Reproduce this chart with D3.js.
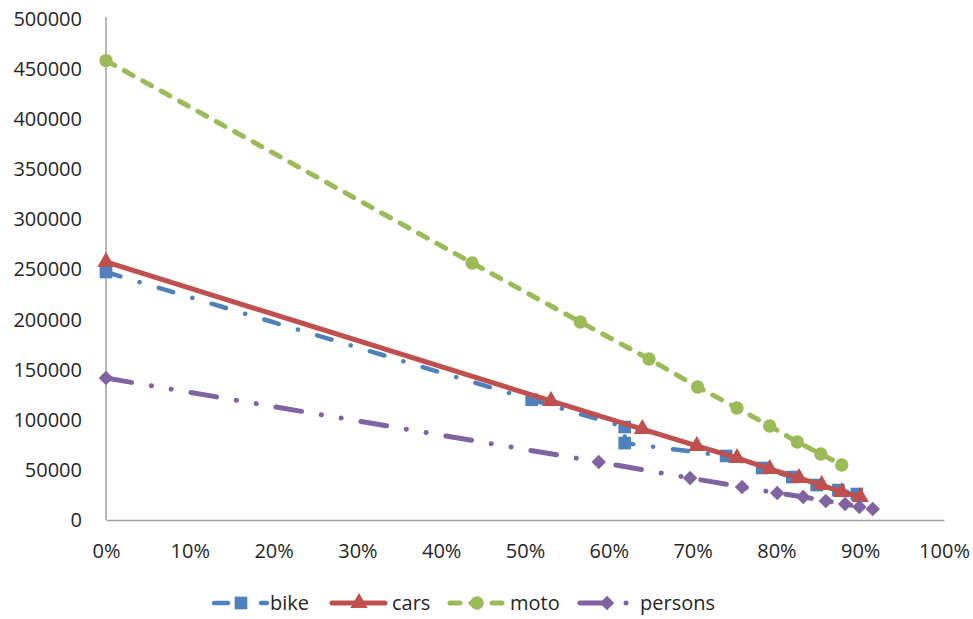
<!DOCTYPE html>
<html>
<head>
<meta charset="utf-8">
<script src="https://cdn.jsdelivr.net/npm/d3@7"></script>
<style>
  html, body { margin: 0; padding: 0; background: #ffffff; }
  svg { display: block; font-family: "Open Sans", "Liberation Sans", sans-serif; }
</style>
</head>
<body>
<svg id="chart" width="973" height="619"></svg>
<script>
// Share of fleet (x) and remaining count (y) per vehicle type
const bikeX = [0, 0.508, 0.619, 0.619, 0.740, 0.783, 0.819, 0.848, 0.874, 0.896];
const bikeY = [247500, 120000, 92800, 76800, 63900, 51900, 42900, 34900, 29900, 25900];

const carsX = [0, 0.531, 0.640, 0.705, 0.753, 0.792, 0.827, 0.854, 0.878, 0.900];
const carsY = [257500, 118800, 90800, 73900, 61900, 50900, 41900, 34900, 27900, 23000];

const motoX = [0, 0.437, 0.566, 0.648, 0.706, 0.753, 0.792, 0.825, 0.853, 0.878];
const motoY = [458500, 256500, 197600, 160700, 132700, 111800, 93800, 77800, 65900, 54900];

const personsX = [0, 0.588, 0.697, 0.759, 0.801, 0.832, 0.859, 0.882, 0.899, 0.915];
const personsY = [141700, 57900, 41900, 32900, 26900, 23000, 19000, 16000, 13000, 11000];

const seriesNames = ["bike", "cars", "moto", "persons"];
const xTicks = [0, 0.1, 0.2, 0.3, 0.4, 0.5, 0.6, 0.7, 0.8, 0.9, 1.0];
const yTicks = [0, 50000, 100000, 150000, 200000, 250000, 300000, 350000, 400000, 450000, 500000];

const series = [
  { name: seriesNames[0], xs: bikeX, ys: bikeY, color: "#4F81BD", width: 4.5, dash: "15,20,0.1,20", legendDash: "14,13,0.1,20", marker: "square" },
  { name: seriesNames[1], xs: carsX, ys: carsY, color: "#C0504D", width: 5, dash: null, legendDash: null, marker: "triangle" },
  { name: seriesNames[2], xs: motoX, ys: motoY, color: "#9BBB59", width: 5, dash: "10,11", legendDash: "10,11", marker: "circle" },
  { name: seriesNames[3], xs: personsX, ys: personsY, color: "#8064A2", width: 5, dash: "26,20,0.1,20,0.1,20", legendDash: "26,20,0.1,20", marker: "diamond" }
];

const svg = d3.select("#chart");
const x = d3.scaleLinear().domain([0, 1]).range([106, 944]);
const y = d3.scaleLinear().domain([0, 500000]).range([520, 19]);

const axisColor = "#A0A0A0";
const textColor = "#262626";

// Axes
const gx = svg.append("g").attr("transform", "translate(0,520)")
  .call(d3.axisBottom(x).tickValues(xTicks).tickFormat(d3.format(".0%")).tickSize(0).tickPadding(24));
const gy = svg.append("g").attr("transform", "translate(106,0)")
  .call(d3.axisLeft(y).tickValues(yTicks).tickFormat(d3.format("d")).tickSize(0).tickPadding(24));

[gx, gy].forEach(g => {
  g.select(".domain").attr("stroke", axisColor).attr("stroke-width", 1.5);
  g.selectAll("text").attr("fill", textColor).style("font-size", "20px")
    .style("font-family", "'Open Sans', 'Liberation Sans', sans-serif");
});
gy.select(".domain").attr("d", "M0,520V17");

// Marker shapes; the diamond is a square turned by 45 degrees
const symbolFor = {
  square: d3.symbol().type(d3.symbolSquare).size(160),
  triangle: d3.symbol().type(d3.symbolTriangle).size(130),
  circle: d3.symbol().type(d3.symbolCircle).size(140),
  diamond: d3.symbol().type(d3.symbolSquare).size(105)
};
const markerTransform = (m, px, py) =>
  `translate(${px},${py})` + (m === "diamond" ? " rotate(45)" : "");

const line = d3.line().x(d => x(d[0])).y(d => y(d[1]));

series.forEach(s => {
  const pts = s.xs.map((v, i) => [v, s.ys[i]]);
  const g = svg.append("g");
  g.append("path")
    .attr("d", line(pts))
    .attr("fill", "none")
    .attr("stroke", s.color)
    .attr("stroke-width", s.width)
    .attr("stroke-linecap", "round")
    .attr("stroke-linejoin", "round")
    .attr("stroke-dasharray", s.dash);
  g.selectAll("path.mk").data(pts).join("path")
    .attr("class", "mk")
    .attr("d", symbolFor[s.marker])
    .attr("transform", d => markerTransform(s.marker, x(d[0]), y(d[1])))
    .attr("fill", s.color);
});

// Legend
const legendX = [212, 330, 448, 578];
const legendTextX = [270, 392, 510, 640];
const ly = 603;
series.forEach((s, i) => {
  const x0 = legendX[i];
  const g = svg.append("g");
  g.append("line")
    .attr("x1", x0 + 2).attr("x2", x0 + 55)
    .attr("y1", ly).attr("y2", ly)
    .attr("stroke", s.color)
    .attr("stroke-width", s.width)
    .attr("stroke-linecap", "round")
    .attr("stroke-dasharray", s.legendDash);
  g.append("path")
    .attr("d", symbolFor[s.marker])
    .attr("transform", markerTransform(s.marker, x0 + 29, ly))
    .attr("fill", s.color);
  g.append("text")
    .attr("x", legendTextX[i]).attr("y", ly)
    .attr("dy", "0.35em")
    .attr("fill", textColor)
    .style("font-size", "20px")
    .text(s.name);
});
</script>
</body>
</html>
